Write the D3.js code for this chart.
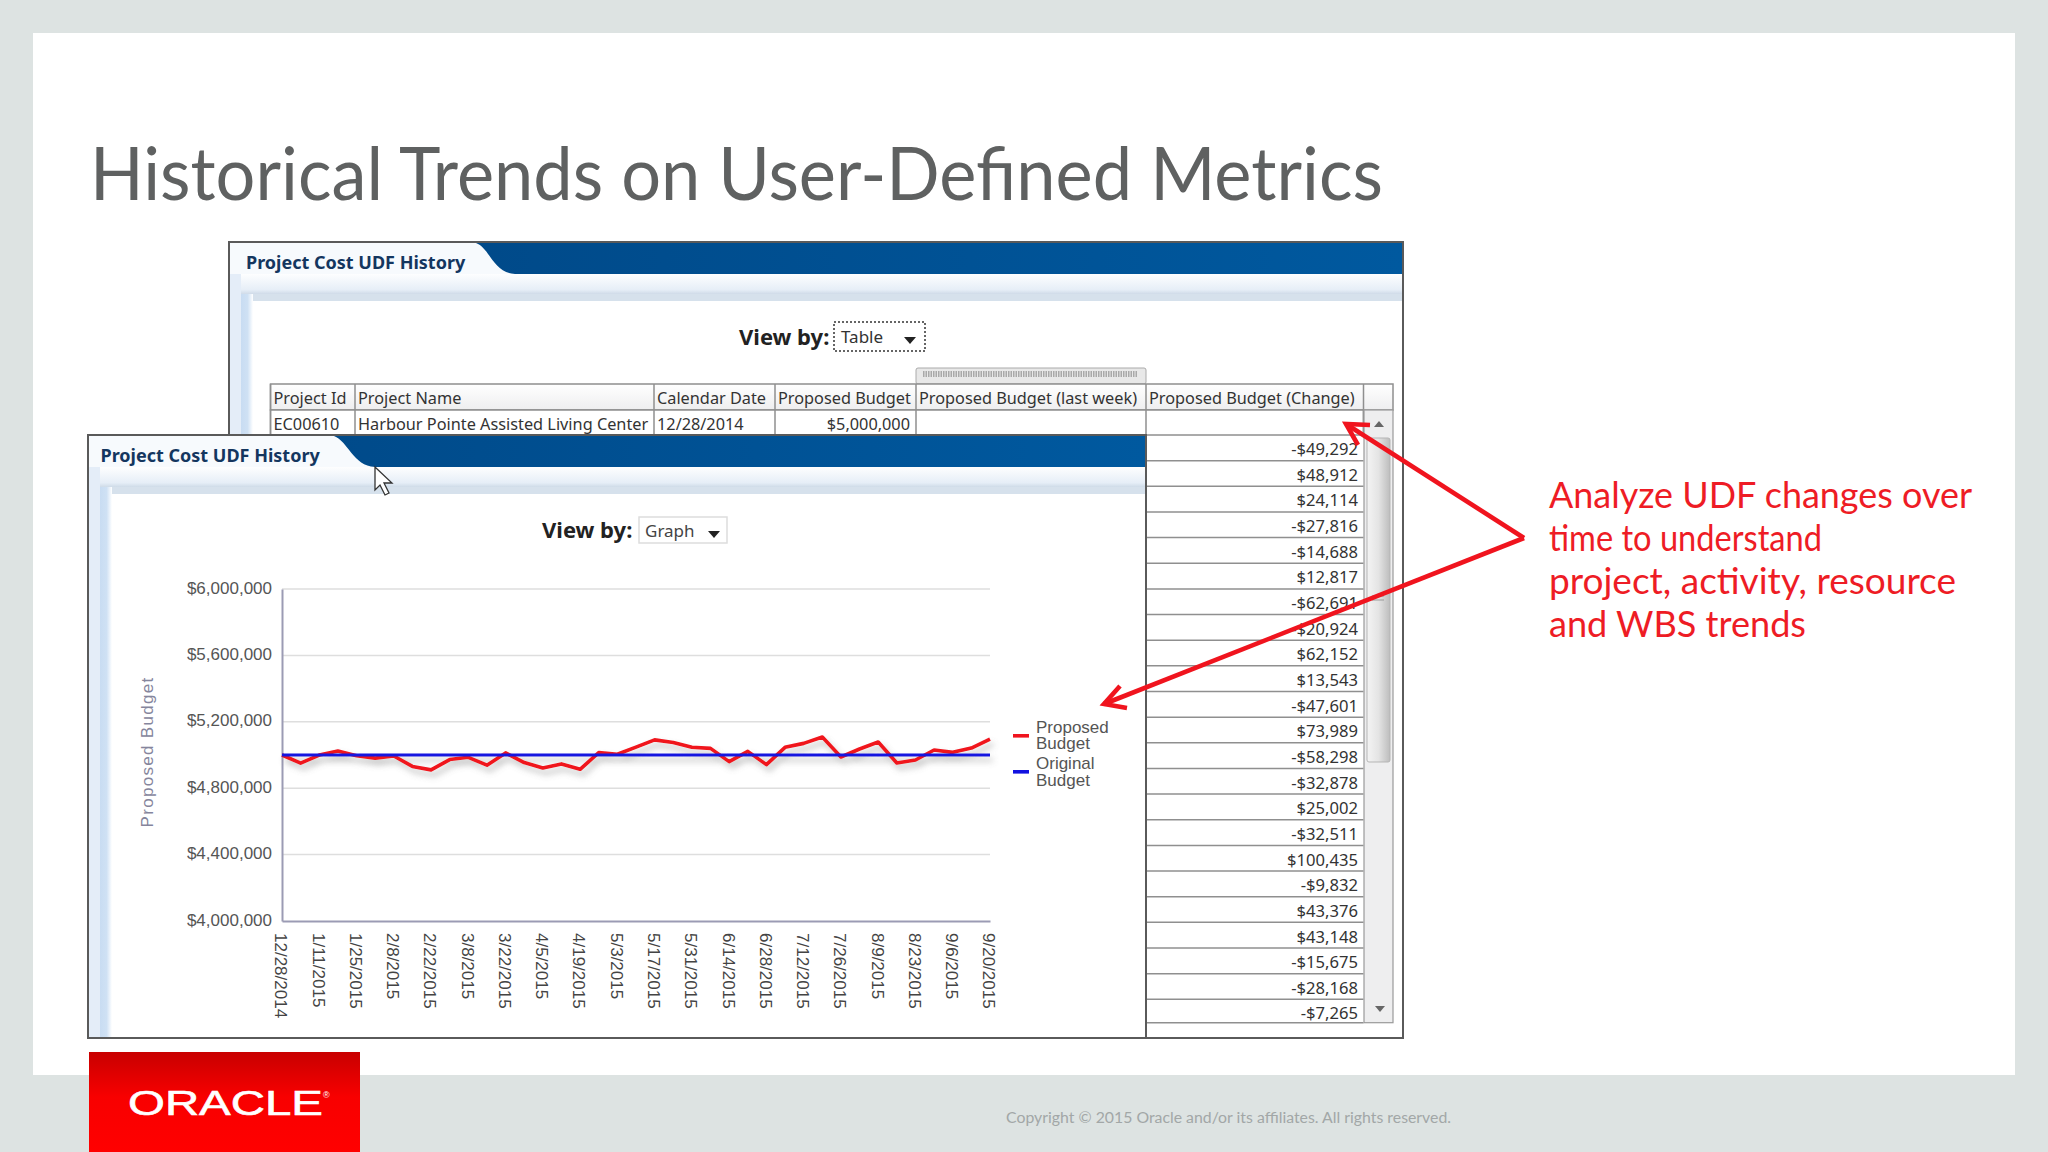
<!DOCTYPE html>
<html>
<head>
<meta charset="utf-8">
<script src="https://cdn.jsdelivr.net/npm/d3@7"></script>
<style>
  body { margin: 0; background: #dde3e2; }
  svg { display: block; }
</style>
</head>
<body>
<svg id="slide" width="2048" height="1152"></svg>
<script>
const dates = ['12/28/2014','1/4/2015','1/11/2015','1/18/2015','1/25/2015','2/1/2015','2/8/2015','2/15/2015','2/22/2015','3/1/2015','3/8/2015','3/15/2015','3/22/2015','3/29/2015','4/5/2015','4/12/2015','4/19/2015','4/26/2015','5/3/2015','5/10/2015','5/17/2015','5/24/2015','5/31/2015','6/7/2015','6/14/2015','6/21/2015','6/28/2015','7/5/2015','7/12/2015','7/19/2015','7/26/2015','8/2/2015','8/9/2015','8/16/2015','8/23/2015','8/30/2015','9/6/2015','9/13/2015','9/20/2015'];
const dateTicks = ['12/28/2014','1/11/2015','1/25/2015','2/8/2015','2/22/2015','3/8/2015','3/22/2015','4/5/2015','4/19/2015','5/3/2015','5/17/2015','5/31/2015','6/14/2015','6/28/2015','7/12/2015','7/26/2015','8/9/2015','8/23/2015','9/6/2015','9/20/2015'];
const proposedBudget = [5000000,4950708,4999620,5023734,4995918,4981230,4994047,4931356,4910432,4972584,4986127,4938526,5012515,4954217,4921339,4946341,4913830,5014265,5004433,5047809,5090957,5075282,5047114,5039849,4960000,5022000,4942000,5046000,5070000,5108000,4988000,5036000,5078000,4952000,4970000,5030000,5016000,5042000,5096000];
const originalBudget = [5000000,5000000,5000000,5000000,5000000,5000000,5000000,5000000,5000000,5000000,5000000,5000000,5000000,5000000,5000000,5000000,5000000,5000000,5000000,5000000,5000000,5000000,5000000,5000000,5000000,5000000,5000000,5000000,5000000,5000000,5000000,5000000,5000000,5000000,5000000,5000000,5000000,5000000,5000000];
const budgetTicks = [4000000,4400000,4800000,5200000,5600000,6000000];
const budgetChange = [-49292,48912,24114,-27816,-14688,12817,-62691,-20924,62152,13543,-47601,73989,-58298,-32878,25002,-32511,100435,-9832,43376,43148,-15675,-28168,-7265];
const tableHeaders = ['Project Id','Project Name','Calendar Date','Proposed Budget','Proposed Budget (last week)','Proposed Budget (Change)'];
const firstRow = ['EC00610','Harbour Pointe Assisted Living Center','12/28/2014','$5,000,000','',''];
const calloutLines = ['Analyze UDF changes over','time to understand','project, activity, resource','and WBS trends'];
const calloutWidths = [423, 273, 407, 257];

const uiFont = '"Noto Sans", sans-serif';
const chartFont = '"Liberation Sans", Arial, sans-serif';
const slideFont = 'Lato, sans-serif';
const red = '#f0141e';

const svg = d3.select('#slide');
const defs = svg.append('defs');

function linearGradient(id, x2, y2, stops) {
  const g = defs.append('linearGradient').attr('id', id)
    .attr('x1', 0).attr('y1', 0).attr('x2', x2).attr('y2', y2);
  stops.forEach(s => g.append('stop').attr('offset', s[0]).attr('stop-color', s[1]));
}
linearGradient('header-blue', 1, 0, [[0, '#004684'], [1, '#00599f']]);
linearGradient('strip', 0, 1, [[0, '#ffffff'], [0.8, '#e6eef7'], [1, '#cfdbe8']]);
linearGradient('side', 1, 0, [[0, '#c8dcf2'], [0.55, '#cfe1f4'], [1, '#ffffff']]);
linearGradient('logo-red', 0, 1, [[0, '#c80000'], [0.45, '#f80000'], [1, '#ff0000']]);
linearGradient('cell-head', 0, 1, [[0, '#ffffff'], [1, '#eeeeef']]);
linearGradient('thumb', 1, 0, [[0, '#f4f4f4'], [0.5, '#e4e4e4'], [1, '#bdbdbd']]);

const shadow = defs.append('filter').attr('id', 'line-shadow')
  .attr('x', '-2%').attr('y', '-60%').attr('width', '104%').attr('height', '220%');
shadow.append('feDropShadow').attr('dx', 3).attr('dy', 5).attr('stdDeviation', 3)
  .attr('flood-color', '#777').attr('flood-opacity', 0.45);

function rect(parent, x, y, w, h, fill, stroke, sw) {
  return parent.append('rect').attr('x', x).attr('y', y).attr('width', w).attr('height', h)
    .attr('fill', fill).attr('stroke', stroke || 'none').attr('stroke-width', sw || 0);
}
function text(parent, x, y, str, size, color, font, weight, anchor) {
  return parent.append('text').attr('x', x).attr('y', y).text(str)
    .attr('font-size', size).attr('fill', color).attr('font-family', font)
    .attr('font-weight', weight || 'normal').attr('text-anchor', anchor || 'start');
}
function poly(parent, pts, fill, stroke, sw) {
  return parent.append('path').attr('d', d3.line()(pts)).attr('fill', fill)
    .attr('stroke', stroke || 'none').attr('stroke-width', sw || 0);
}

// slide background
rect(svg, 0, 0, 2048, 1152, '#dde3e2');
rect(svg, 33, 33, 1982, 1042, '#ffffff');
text(svg, 90, 200, 'Historical Trends on User-Defined Metrics', 74, '#5f6161', slideFont)
  .attr('textLength', 1293).attr('lengthAdjust', 'spacingAndGlyphs');

// one of the two portal windows
function drawPanel(x, y, r, b, tabTop, tabBottom, titleX, title) {
  const g = svg.append('g');
  rect(g, x, y, r - x, b - y, '#ffffff');
  rect(g, x, y + 31, r - x, 21, 'url(#strip)');
  rect(g, x, y + 52, r - x, 7, '#d6e1ec');
  rect(g, x + 12, y + 52, 12, b - y - 52, 'url(#side)');
  rect(g, x, y + 31, 12, b - y - 31, '#e4edf8');
  rect(g, x + 1, y + 1, r - x - 1, 31, 'url(#header-blue)');
  g.append('path')
    .attr('d', `M${x + 1},${y + 1} L${tabTop},${y + 1} C${tabTop + 14},${y + 6} ${tabBottom - 22},${y + 31} ${tabBottom},${y + 32} L${x + 1},${y + 32} Z`)
    .attr('fill', '#f7fafd');
  text(g, titleX, y + 26.5, title, 18, '#14365f', uiFont, 'bold');
  rect(g, x, y, r - x, b - y, 'none', '#5a5a5a', 2);
  return g;
}

// back window with the table
const back = drawPanel(229, 242, 1403, 1038, 476, 515, 246, 'Project Cost UDF History');
text(back, 739, 345, 'View by:', 22, '#222222', uiFont, 'bold');
rect(back, 834, 322, 91, 29, '#ffffff', '#333333', 1.5).attr('stroke-dasharray', '2 2');
text(back, 841, 343, 'Table', 17, '#333333', uiFont);
poly(back, [[904, 337], [916, 337], [910, 344], [904, 337]], '#222222');

const columnEdges = [270.5, 355, 654, 775, 916, 1146, 1363.5];
const table = back.append('g');
rect(table, 916, 368, 230, 16, '#e8e8e8', '#aaaaaa', 1).attr('rx', 2);
poly(table, [[923, 374], [1138, 374]], 'none', '#a9a9a9', 6).attr('stroke-dasharray', '1.5 1');
rect(table, 270.5, 384, 1122.5, 26, 'url(#cell-head)', '#8f8f8f', 1.5);
rect(table, 270.5, 410, 1093, 25, '#ffffff', '#8f8f8f', 1.5);
tableHeaders.forEach((h, i) => {
  const left = columnEdges[i], right = columnEdges[i + 1];
  table.append('line').attr('x1', left).attr('x2', left).attr('y1', 384).attr('y2', 435)
    .attr('stroke', '#8f8f8f').attr('stroke-width', 1.5);
  text(table, left + 3, 404, h, 16.3, '#333333', uiFont);
  if (firstRow[i]) {
    if (i === 3) text(table, right - 6, 429.5, firstRow[i], 16.3, '#333333', uiFont, 'normal', 'end');
    else text(table, left + 3, 429.5, firstRow[i], 16.3, '#333333', uiFont);
  }
});
table.append('line').attr('x1', 1363.5).attr('x2', 1363.5).attr('y1', 384).attr('y2', 435)
  .attr('stroke', '#8f8f8f').attr('stroke-width', 1.5);

// change column, still visible at the right of the front window
const signedMoney = v => (v < 0 ? '-' : '') + d3.format('$,')(Math.abs(v));
const rowHeight = 25.65;
const rows = back.append('g');
budgetChange.forEach((v, i) => {
  const bottom = 435 + rowHeight * (i + 1);
  const rule = Math.min(bottom, 1022.7);
  rows.append('line').attr('x1', 1146).attr('x2', 1363.5).attr('y1', rule).attr('y2', rule)
    .attr('stroke', '#8f8f8f').attr('stroke-width', 1.5);
  text(rows, 1358, bottom - 5.5, signedMoney(v), 16.6, '#333333', uiFont, 'normal', 'end');
});
rect(back, 1364, 410, 29, 612.7, '#eeeeef', '#9a9a9a', 1.2);
rect(back, 1367, 438, 23, 324, 'url(#thumb)', '#b5b5b5', 1).attr('rx', 2);
poly(back, [[1374, 427], [1384, 427], [1379, 421]], '#666666');
poly(back, [[1375, 1006], [1385, 1006], [1380, 1012]], '#666666');
poly(back, [[1372, 596], [1384, 596]], 'none', '#999999', 1);
poly(back, [[1372, 600], [1384, 600]], 'none', '#999999', 1);

// front window with the chart
const front = drawPanel(88, 435, 1146, 1038, 334, 375, 100.5, 'Project Cost UDF History');
text(front, 542, 538, 'View by:', 22, '#222222', uiFont, 'bold');
rect(front, 639, 517, 88, 26, '#ffffff', '#dddddd', 1.5);
text(front, 645, 537, 'Graph', 17, '#444444', uiFont);
poly(front, [[708, 531], [720, 531], [714, 538], [708, 531]], '#222222');

const chartLeft = 282, chartRight = 990, chartTop = 589, chartBottom = 921;
const x = d3.scalePoint().domain(dates).range([chartLeft, chartRight]);
const y = d3.scaleLinear().domain([4000000, 6000000]).range([chartBottom, chartTop]);

const grid = front.append('g');
grid.selectAll('line').data(budgetTicks.slice(1)).join('line')
  .attr('x1', chartLeft).attr('x2', chartRight)
  .attr('y1', d => y(d)).attr('y2', d => y(d))
  .attr('stroke', '#dedede').attr('stroke-width', 1.5);

const yAxis = front.append('g').attr('transform', `translate(${chartLeft},0)`)
  .call(d3.axisLeft(y).tickValues(budgetTicks).tickSize(0).tickPadding(10).tickFormat(d3.format('$,')));
yAxis.select('.domain').attr('stroke', '#9b9bb4').attr('stroke-width', 2);
yAxis.selectAll('text').attr('font-family', chartFont).attr('font-size', 17)
  .attr('fill', '#555555').attr('dy', '0.24em');

const xAxis = front.append('g').attr('transform', `translate(0,${chartBottom})`)
  .call(d3.axisBottom(x).tickValues(dateTicks).tickSize(0).tickPadding(0));
xAxis.select('.domain').attr('stroke', '#9b9bb4').attr('stroke-width', 2);
xAxis.selectAll('text').attr('font-family', chartFont).attr('font-size', 17)
  .attr('fill', '#444444').attr('text-anchor', 'start').attr('dy', '0.42em')
  .attr('x', 12).attr('y', 0).attr('transform', 'rotate(90)');

text(front, 0, 0, 'Proposed Budget', 17, '#85859c', chartFont, 'normal', 'middle')
  .attr('letter-spacing', 1.3)
  .attr('transform', 'translate(153,752) rotate(-90)');

const budgetLine = d3.line().x((d, i) => x(dates[i])).y(d => y(d));
const lines = front.append('g').attr('fill', 'none').attr('filter', 'url(#line-shadow)');
lines.append('path').datum(proposedBudget).attr('d', budgetLine)
  .attr('stroke', red).attr('stroke-width', 3.6).attr('stroke-linejoin', 'round');
lines.append('path').datum(originalBudget).attr('d', budgetLine)
  .attr('stroke', '#1212e0').attr('stroke-width', 3.2);

// legend
rect(front, 1013, 734, 16, 3.6, red);
rect(front, 1013, 770, 16, 3.6, '#1212e0');
text(front, 1036, 732.7, 'Proposed', 17, '#555555', chartFont);
text(front, 1036, 749.3, 'Budget', 17, '#555555', chartFont);
text(front, 1036, 769.3, 'Original', 17, '#555555', chartFont);
text(front, 1036, 786, 'Budget', 17, '#555555', chartFont);

// mouse pointer
front.append('path')
  .attr('d', 'M375,467 L375,490 L380,485 L385,495 L389,493 L384,483 L392,483 Z')
  .attr('fill', '#ffffff').attr('stroke', '#333333').attr('stroke-width', 1.3);

// callout
const arrows = svg.append('g').attr('fill', 'none');
poly(arrows, [[1524, 538], [1346, 424]], 'none', red, 4.6);
poly(arrows, [[1524, 538], [1104, 704]], 'none', red, 4.6);
poly(arrows, [[1370, 425], [1346, 424], [1358, 445]], 'none', red, 4.6);
poly(arrows, [[1127, 708], [1104, 704], [1120, 686]], 'none', red, 4.6);
calloutLines.forEach((line, i) => {
  text(svg, 1549, 508 + i * 43, line, 36.5, '#ee1c25', slideFont)
    .attr('textLength', calloutWidths[i]).attr('lengthAdjust', 'spacingAndGlyphs');
});

// footer
rect(svg, 89, 1052, 271, 100, 'url(#logo-red)');
text(svg, 128, 1115, 'ORACLE', 35, '#ffffff', chartFont)
  .attr('textLength', 195).attr('lengthAdjust', 'spacingAndGlyphs')
  .attr('stroke', '#ffffff').attr('stroke-width', 0.6);
text(svg, 323, 1098, '®', 9, '#ffffff', chartFont);
text(svg, 1006, 1123, 'Copyright © 2015 Oracle and/or its affiliates. All rights reserved.', 15.5, '#a2a7a7', slideFont)
  .attr('textLength', 445).attr('lengthAdjust', 'spacingAndGlyphs');
</script>
</body>
</html>
